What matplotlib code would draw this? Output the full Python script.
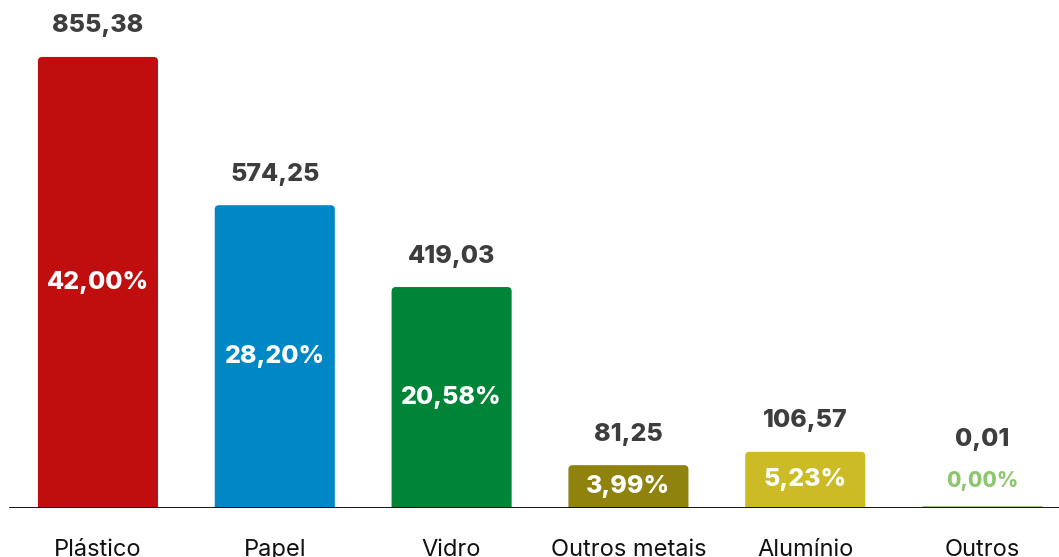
import matplotlib.pyplot as plt
from matplotlib.patches import FancyBboxPatch
from matplotlib.transforms import offset_copy

categorias = ["Plástico", "Papel", "Vidro", "Outros metais", "Alumínio", "Outros"]
valores = [855.38, 574.25, 419.03, 81.25, 106.57, 0.01]
percentuais = [42.00, 28.20, 20.58, 3.99, 5.23, 0.00]
cores = ["#C00E0E", "#0088C6", "#008437", "#8F830E", "#CCBB24", "#8DC66F"]

plt.rcParams['font.family'] = ['Inter', 'DejaVu Sans']

def br(v):
    return f"{v:.2f}".replace(".", ",")

fig = plt.figure(figsize=(10.59, 5.57), dpi=100)
ax = fig.add_axes([0, 49 / 557, 1, 508 / 557])

x = range(len(categorias))
bars = ax.bar(x, valores, width=0.679, color=cores)
ax.set_xlim(-0.554, 5.435)
ax.set_ylim(0, 963.4)

# cantos arredondados
for b in bars:
    x0, y0 = b.get_x(), b.get_y()
    w, h = b.get_width(), b.get_height()
    b.set_visible(False)
    if h <= 0.5:
        # barra quase nula: só uma linha fina
        ax.plot([x0, x0 + w], [1.5, 1.5], color=b.get_facecolor(), lw=2, zorder=3,
                solid_capstyle="butt")
        continue
    p = FancyBboxPatch((x0, -20), w, h + 20, boxstyle="round,pad=0,rounding_size=0.024",
                       mutation_aspect=330, facecolor=b.get_facecolor(), edgecolor="none")
    ax.add_patch(p)

for i, (v, pc, c) in enumerate(zip(valores, percentuais, cores)):
    if v > 40:
        ax.text(i, v / 2, br(pc) + "%", ha="center", va="center", color="white",
                fontsize=18, fontweight="heavy")
        tr = offset_copy(ax.transData, fig=fig, x=0, y=31, units="dots")
        ax.text(i, v, br(v), transform=tr, ha="center", va="center", color="#3D3D3D",
                fontsize=18, fontweight="heavy")
    else:
        tr = offset_copy(ax.transData, fig=fig, x=0, y=27, units="dots")
        ax.text(i, v, br(pc) + "%", transform=tr, ha="center", va="center", color=c,
                fontsize=15, fontweight="heavy")
        tr2 = offset_copy(ax.transData, fig=fig, x=0, y=68, units="dots")
        ax.text(i, v, br(v), transform=tr2, ha="center", va="center", color="#3D3D3D",
                fontsize=18, fontweight="heavy")

ax.axhline(0, xmin=10 / 1059, xmax=1, color="black", lw=2, zorder=4)

ax.set_xticks(list(x))
ax.set_xticklabels(categorias, fontsize=17, color="#111111")
ax.tick_params(axis="x", length=0, pad=22)
ax.set_yticks([])
for s in ax.spines.values():
    s.set_visible(False)

fig.savefig("out.png", dpi=100)
